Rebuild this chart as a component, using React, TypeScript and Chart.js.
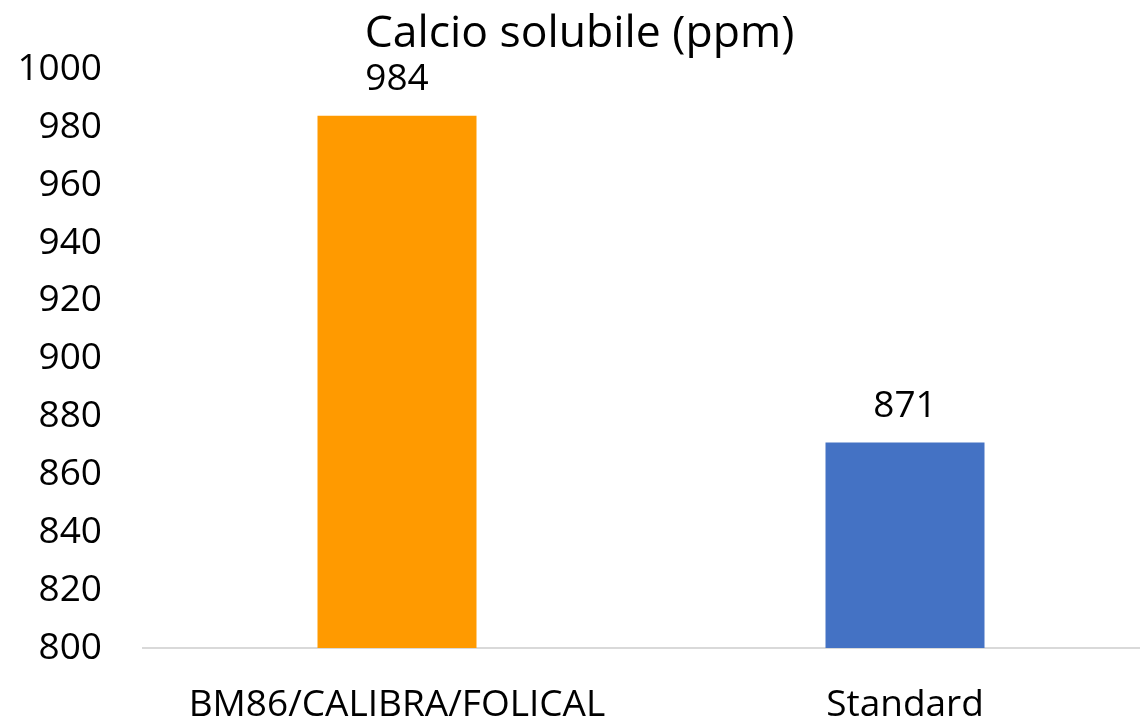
import React, { useEffect, useRef } from "react";
import { Chart, registerables } from "chart.js";

Chart.register(...registerables);

const categories: string[] = ["BM86/CALIBRA/FOLICAL", "Standard"];
const values: number[] = [984, 871];
const barColors: string[] = ["#FF9A00", "#4472C4"];
const titleText = "Calcio solubile (ppm)";
const yMin = 800;
const yMax = 1000;
const yStep = 20;

const FONT = "'Open Sans', 'Noto Sans', sans-serif";

const valueLabels = {
  id: "valueLabels",
  afterDatasetsDraw(chart: any) {
    const ctx = chart.ctx;
    const meta = chart.getDatasetMeta(0);
    ctx.save();
    ctx.font = `37px ${FONT}`;
    ctx.fillStyle = "#000000";
    ctx.textAlign = "center";
    ctx.textBaseline = "middle";
    meta.data.forEach((bar: any, i: number) => {
      ctx.fillText(String(values[i]), bar.x, bar.y - 36);
    });
    ctx.restore();
  },
};

export default function App() {
  const ref = useRef<HTMLCanvasElement | null>(null);

  useEffect(() => {
    if (!ref.current) return;
    const chart = new Chart(ref.current, {
      type: "bar",
      data: {
        labels: categories,
        datasets: [
          {
            data: values,
            backgroundColor: barColors,
            borderWidth: 0,
            categoryPercentage: 1,
            barPercentage: 0.313,
          },
        ],
      },
      options: {
        responsive: false,
        animation: false,
        devicePixelRatio: 1,
        layout: { padding: { left: 0, right: 11, top: 0, bottom: 0 } },
        plugins: {
          legend: { display: false },
          tooltip: { enabled: false },
          title: {
            display: true,
            text: titleText,
            color: "#000000",
            font: { family: FONT, size: 44.5, weight: "normal" },
            padding: { top: 8, bottom: 8 },
          },
        },
        scales: {
          x: {
            grid: { display: false, drawTicks: false },
            border: { display: true, color: "#d9d9d9", width: 2 },
            ticks: {
              color: "#000000",
              font: { family: FONT, size: 37 },
              padding: 35,
              maxRotation: 0,
              autoSkip: false,
            },
            afterFit: (scale: any) => {
              scale.height = 74;
            },
          },
          y: {
            min: yMin,
            max: yMax,
            grid: { display: false, drawTicks: false },
            border: { display: false },
            ticks: {
              stepSize: yStep,
              color: "#000000",
              font: { family: FONT, size: 37 },
              padding: 41,
              callback: (value: any) => String(value),
            },
            afterFit: (scale: any) => {
              scale.width = 143;
            },
          },
        },
      },
      plugins: [valueLabels],
    });
    return () => chart.destroy();
  }, []);

  return (
    <div
      style={{
        position: "absolute",
        left: 0,
        top: 0,
        width: 1140,
        height: 722,
        overflow: "hidden",
        background: "#ffffff",
      }}
    >
      <canvas ref={ref} width={1170} height={722} style={{ display: "block" }} />
    </div>
  );
}
